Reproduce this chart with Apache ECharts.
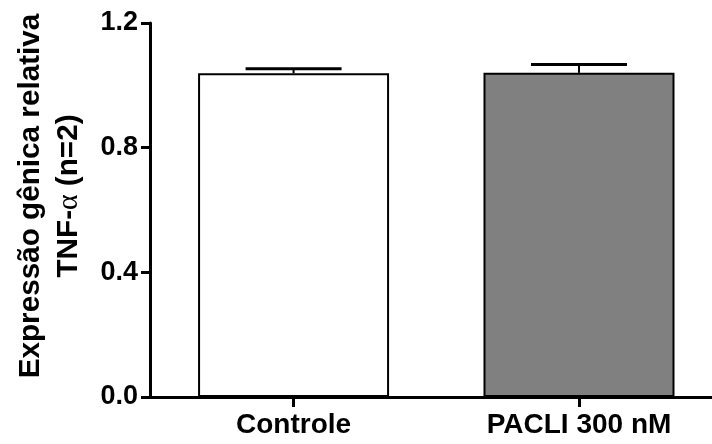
<!DOCTYPE html>
<html>
<head>
<meta charset="utf-8">
<script src="https://cdn.jsdelivr.net/npm/echarts@6/dist/echarts.min.js"></script>
<style>
  html, body { margin: 0; padding: 0; background: #fff; }
  #main { width: 712px; height: 444px; }
</style>
</head>
<body>
<div id="main"></div>
<script>
// data
const categories = ["Controle", "PACLI 300 nM"];
const means = [1.039, 1.040];
const sems = [0.014, 0.027];
const yTicks = [0, 0.4, 0.8, 1.2];

const fills = ["#ffffff", "#808080"];
const font = "'Liberation Sans', Arial, sans-serif";
const positions = categories.map((c, i) => i);

const chart = echarts.init(document.getElementById("main"));

const option = {
  animation: false,
  grid: { left: 150, right: 0, top: 23, bottom: 47 },
  // value axis so the groups can sit off-centre like the original (Prism layout)
  xAxis: {
    type: "value",
    min: -0.503,
    max: 1.466,
    axisLine: { show: true, lineStyle: { color: "#000", width: 3 } },
    axisTick: {
      show: true,
      customValues: positions,
      length: 10,
      lineStyle: { color: "#000", width: 3 },
    },
    axisLabel: {
      customValues: positions,
      formatter: (v) => categories[Math.round(v)],
      margin: 14,
      color: "#000",
      fontFamily: font,
      fontWeight: "bold",
      fontSize: 28,
    },
    splitLine: { show: false },
  },
  yAxis: {
    type: "value",
    min: yTicks[0],
    max: yTicks[yTicks.length - 1],
    interval: 0.4,
    axisLine: { show: true, onZero: false, lineStyle: { color: "#000", width: 3 } },
    axisTick: { show: true, length: 9, lineStyle: { color: "#000", width: 3 } },
    splitLine: { show: false },
    axisLabel: {
      margin: 12,
      color: "#000",
      fontFamily: font,
      fontWeight: "bold",
      fontSize: 27,
      formatter: (v) => v.toFixed(1),
    },
    name: "Expressão gênica relativa\nTNF-{a|α} (n=2)",
    nameLocation: "middle",
    nameGap: 62,
    nameTextStyle: {
      color: "#000",
      fontFamily: font,
      fontWeight: "bold",
      fontSize: 29.7,
      lineHeight: 38,
      padding: [0, 0, 0, 28],
      rich: {
        a: {
          fontFamily: "'Liberation Serif', serif",
          fontWeight: "normal",
          fontSize: 29.7,
          lineHeight: 38,
          color: "#000",
        },
      },
    },
  },
  series: [
    {
      type: "bar",
      barWidth: 191,
      data: means.map((m, i) => ({
        value: [positions[i], m],
        itemStyle: { color: fills[i], borderColor: "#000", borderWidth: 2 },
      })),
      z: 2,
    },
    {
      type: "custom",
      z: 3,
      data: means.map((m, i) => [positions[i], m, m + sems[i]]),
      renderItem: (params, api) => {
        const base = api.coord([api.value(0), api.value(1)]);
        const top = api.coord([api.value(0), api.value(2)]);
        const hw = 48;
        return {
          type: "group",
          children: [
            {
              type: "line",
              shape: { x1: base[0], y1: base[1], x2: top[0], y2: top[1] },
              style: { stroke: "#000", lineWidth: 2 },
            },
            {
              type: "line",
              shape: { x1: top[0] - hw, y1: top[1], x2: top[0] + hw, y2: top[1] },
              style: { stroke: "#000", lineWidth: 3 },
            },
          ],
        };
      },
    },
  ],
};

chart.setOption(option);
</script>
</body>
</html>
